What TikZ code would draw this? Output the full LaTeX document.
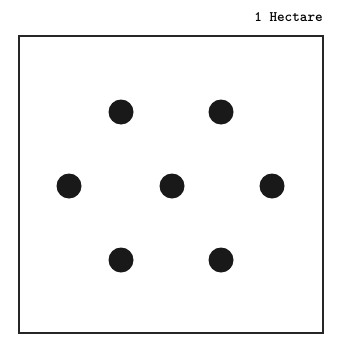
\documentclass[tikz,border=0pt]{standalone}
\begin{document}
\begin{tikzpicture}[x=1pt,y=-1pt,
  dot/.style={circle,fill=black!90,inner sep=0pt,minimum size=25pt},
  plot/.style={draw=black!85,line width=2pt}]
\useasboundingbox (0,0) rectangle (339,337);
\node[plot,minimum width=304pt,minimum height=297pt,inner sep=0pt] (field) at (171,184.5) {};
\node[font=\ttfamily\bfseries\fontsize{14.5}{16}\selectfont,anchor=east,inner sep=0pt] (lbl) at (323,17) {1 Hectare};
\node[dot] (d1) at (121,112) {};
\node[dot] (d2) at (221,112) {};
\node[dot] (d3) at (69,186) {};
\node[dot] (d4) at (172,186) {};
\node[dot] (d5) at (272,186) {};
\node[dot] (d6) at (121,260) {};
\node[dot] (d7) at (221,260) {};
\end{tikzpicture}
\end{document}
